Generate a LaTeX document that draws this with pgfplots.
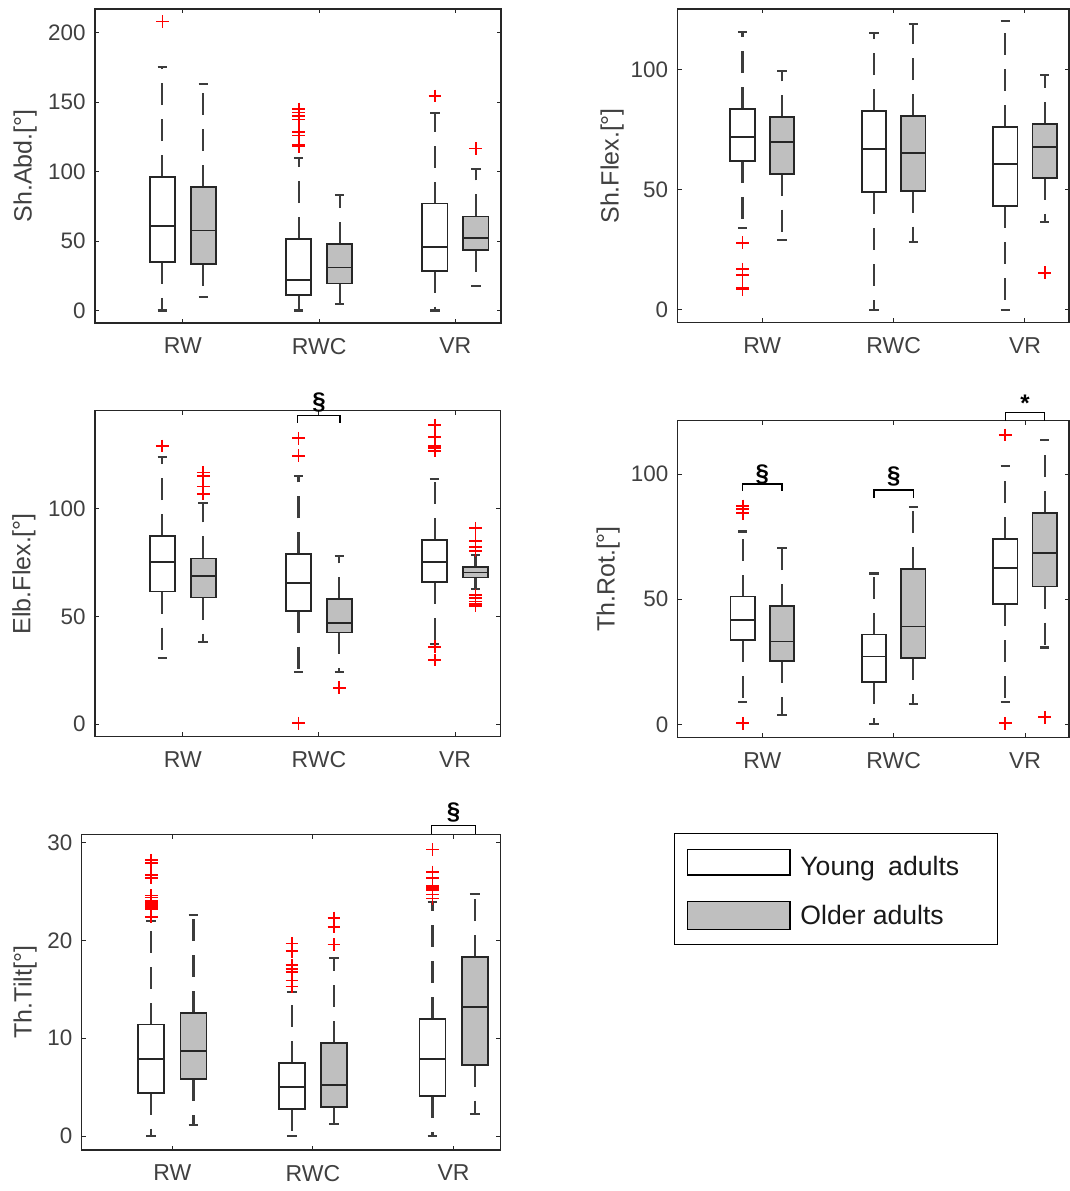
\documentclass[border=0pt]{standalone}
\usepackage{pgfplots}
\pgfplotsset{compat=1.18}
\usepgfplotslibrary{statistics}
\usepackage{fontspec}
\setmainfont{Liberation Sans}
\definecolor{axgray}{HTML}{262626}
\definecolor{tickgray}{HTML}{404040}
\definecolor{boxgray}{HTML}{BFBFBF}
\definecolor{outred}{HTML}{FF0000}
\tikzset{
  sig/.style={draw=black, line width=0.6pt},
  sigtxt/.style={font=\bfseries\fontsize{12}{14}\selectfont, inner sep=0pt},
}
\pgfplotsset{
  panel/.style={
    scale only axis, clip=false,
    xmin=0.355, xmax=3.335,
    xtick={1,2,3}, xticklabels={RW,RWC,VR},
    tick pos=both, tick align=inside,
    major tick length=2.2pt,
    axis line style={axgray, line width=0.75pt},
    every tick/.style={axgray, line width=0.5pt},
    tick label style={tickgray},
    yticklabel style={font=\fontsize{11.2}{13}\selectfont, xshift=-1.2pt},
    xticklabel style={font=\fontsize{11.5}{13}\selectfont, yshift=-4pt},
    ylabel style={font=\fontsize{12.5}{14}\selectfont, tickgray, anchor=center},
    /pgf/number format/assume math mode=true,
  },
  bstyle/.style={
    boxplot/draw direction=y,
    boxplot/box extend=0.185,
    boxplot/whisker extend=0.07,
    boxplot/every whisker/.style={draw=axgray!90, line width=1.05pt, dash pattern=on 11pt off 7pt},
    boxplot/every median/.style={draw=axgray, line width=0.9pt, solid},
    no marks,
  },
  young/.style={bstyle, boxplot/every box/.style={draw=axgray, fill=white, line width=0.9pt, solid}},
  older/.style={bstyle, boxplot/every box/.style={draw=axgray, fill=boxgray, line width=0.9pt, solid}},
  out/.style={only marks, mark=+, mark size=3.2pt, mark options={draw=outred, solid, line width=0.9pt}},
  bx/.style n args={6}{boxplot prepared={draw position=#1, lower whisker=#2, lower quartile=#3, median=#4, upper quartile=#5, upper whisker=#6}},
}
\begin{document}
\begin{tikzpicture}
\useasboundingbox (0,0) rectangle (535pt,-595.5pt);

% ---------- Panel 1: Sh.Abd ----------
\begin{axis}[panel, at={(47.5pt,-161.5pt)}, anchor=south west,
  width=203pt, height=157pt, ymin=-9, ymax=217, ytick={0,50,100,150,200},
  ylabel={Sh.Abd.[°]}, ylabel style={at={(axis description cs:-0.172,0.5)}}]
\addplot[young, bx={0.85}{0}{35}{61}{96}{175}] coordinates {};
\addplot[older, bx={1.15}{9.5}{33.6}{57.6}{89}{163}] coordinates {};
\addplot[young, bx={1.85}{0}{11.2}{22}{51.4}{110}] coordinates {};
\addplot[older, bx={2.15}{4.5}{19.4}{30.9}{47.8}{83.4}] coordinates {};
\addplot[young, bx={2.85}{0}{28.7}{45.6}{77}{142}] coordinates {};
\addplot[older, bx={3.15}{17.9}{43.7}{52}{67.7}{102}] coordinates {};
\addplot[out] coordinates {(0.85,208) (1.85,145) (1.85,142.5) (1.85,140) (1.85,137.5) (1.85,128.5) (1.85,126) (1.85,119) (1.85,118) (2.85,154.4) (3.15,116.6)};
\end{axis}

% ---------- Panel 2: Sh.Flex ----------
\begin{axis}[panel, at={(338.75pt,-161.35pt)}, anchor=south west,
  width=195.75pt, height=156.85pt, ymin=-5.3, ymax=125.4, ytick={0,50,100},
  ylabel={Sh.Flex.[°]}, ylabel style={at={(axis description cs:-0.167,0.5)}}]
\addplot[young, bx={0.85}{34}{62.1}{72.2}{83.75}{115.7}] coordinates {};
\addplot[older, bx={1.15}{29.2}{56.8}{69.9}{80.3}{99.6}] coordinates {};
\addplot[young, bx={1.85}{0}{49}{67.1}{82.9}{115.3}] coordinates {};
\addplot[older, bx={2.15}{28.2}{49.7}{65.3}{80.8}{119.2}] coordinates {};
\addplot[young, bx={2.85}{0}{43.3}{60.8}{76.4}{120.4}] coordinates {};
\addplot[older, bx={3.15}{36.8}{55}{67.8}{77.5}{97.9}] coordinates {};
\addplot[out] coordinates {(0.85,28) (0.85,17) (0.85,14.5) (0.85,9) (0.85,8.5) (3.15,15.5)};
\end{axis}

% ---------- Panel 3: Elb.Flex ----------
\begin{axis}[panel, at={(47.5pt,-368.35pt)}, anchor=south west,
  width=202.85pt, height=163pt, ymin=-5.9, ymax=145.7, ytick={0,50,100},
  ylabel={Elb.Flex.[°]}, ylabel style={at={(axis description cs:-0.175,0.5)}}]
\addplot[young, bx={0.85}{30.5}{61.6}{75.5}{87.4}{124}] coordinates {};
\addplot[older, bx={1.15}{38.3}{58.8}{68.8}{77}{102.6}] coordinates {};
\addplot[young, bx={1.85}{24.3}{52.7}{65.4}{78.9}{115.5}] coordinates {};
\addplot[older, bx={2.15}{24}{42.6}{46.8}{58}{78.1}] coordinates {};
\addplot[young, bx={2.85}{37.2}{65.9}{75.2}{85.6}{114}] coordinates {};
\addplot[older, bx={3.15}{63}{68.1}{70.5}{73.2}{78.6}] coordinates {};
\addplot[out] coordinates {(0.85,129.3) (1.15,117) (1.15,115.5) (1.15,110.5) (1.15,107) (1.85,132.9) (1.85,124.7) (1.85,0.3) (2.15,16.9) (2.85,139) (2.85,133.6) (2.85,129.3) (2.85,128.2) (2.85,127.1) (2.85,36) (2.85,29.8) (3.15,91) (3.15,85) (3.15,82.5) (3.15,80.5) (3.15,60) (3.15,58.5) (3.15,57) (3.15,56) (3.15,55)};
\draw[sig] (axis cs:1.845,140) -- (axis cs:1.845,143.3) -- (axis cs:2.155,143.3) -- (axis cs:2.155,140);
\node[sigtxt] at (axis cs:2,149.5) {§};
\end{axis}

% ---------- Panel 4: Th.Rot ----------
\begin{axis}[panel, at={(338.85pt,-368.65pt)}, anchor=south west,
  width=195.65pt, height=158.3pt, ymin=-5.2, ymax=121.4, ytick={0,50,100},
  ylabel={Th.Rot.[°]}, ylabel style={at={(axis description cs:-0.178,0.5)}}]
\addplot[young, bx={0.85}{8.8}{33.7}{41.7}{51.1}{77.1}] coordinates {};
\addplot[older, bx={1.15}{3.7}{25.3}{33.1}{47.3}{70.4}] coordinates {};
\addplot[young, bx={1.85}{0.3}{16.8}{27.1}{35.9}{60.3}] coordinates {};
\addplot[older, bx={2.15}{8}{26.4}{39.1}{62.1}{86.8}] coordinates {};
\addplot[young, bx={2.85}{9.1}{48}{62.4}{74.1}{103.3}] coordinates {};
\addplot[older, bx={3.15}{30.7}{55.1}{68.4}{84.4}{113.7}] coordinates {};
\addplot[out] coordinates {(0.85,87.3) (0.85,86.1) (0.85,84.4) (0.85,0.4) (2.85,115.7) (2.85,0.4) (3.15,2.8)};
\draw[sig] (axis cs:0.85,93.3) -- (axis cs:0.85,96.1) -- (axis cs:1.15,96.1) -- (axis cs:1.15,93.3);
\node[sigtxt] at (axis cs:1,99.8) {§};
\draw[sig] (axis cs:1.85,90.6) -- (axis cs:1.85,93.7) -- (axis cs:2.15,93.7) -- (axis cs:2.15,90.6);
\node[sigtxt] at (axis cs:2,99.2) {§};
\draw[sig] (axis cs:2.85,121.4) -- (axis cs:2.85,124.6) -- (axis cs:3.15,124.6) -- (axis cs:3.15,121.4);
\node[sigtxt] at (axis cs:3,128.5) {*};
\end{axis}

% ---------- Panel 5: Th.Tilt ----------
\begin{axis}[panel, at={(40.85pt,-575pt)}, anchor=south west,
  width=209.5pt, height=157.85pt, ymin=-1.43, ymax=30.86, ytick={0,10,20,30},
  ylabel={Th.Tilt[°]}, ylabel style={at={(axis description cs:-0.135,0.5)}}]
\addplot[young, bx={0.85}{0}{4.43}{7.84}{11.4}{22.0}] coordinates {};
\addplot[older, bx={1.15}{1.1}{5.8}{8.7}{12.6}{22.6}] coordinates {};
\addplot[young, bx={1.85}{0}{2.73}{5.05}{7.5}{14.7}] coordinates {};
\addplot[older, bx={2.15}{1.2}{3.0}{5.2}{9.55}{18.2}] coordinates {};
\addplot[young, bx={2.85}{0}{4.1}{7.9}{12.0}{23.9}] coordinates {};
\addplot[older, bx={3.15}{2.25}{7.3}{13.2}{18.3}{24.8}] coordinates {};
\addplot[out] coordinates {(0.85,28.2) (0.85,27.9) (0.85,26.7) (0.85,26.4) (0.85,24.6) (0.85,24.4) (0.85,24.0) (0.85,23.8) (0.85,23.6) (0.85,23.4) (0.85,23.2) (0.85,22.4) (1.85,19.7) (1.85,18.9) (1.85,17.5) (1.85,17.1) (1.85,16.8) (1.85,15.9) (1.85,15.3) (2.15,22.3) (2.15,21.4) (2.15,19.6) (2.85,29.3) (2.85,27.0) (2.85,26.4) (2.85,25.6) (2.85,25.4) (2.85,25.2) (2.85,24.7) (2.85,24.3)};
\draw[sig] (axis cs:2.845,30.86) -- (axis cs:2.845,31.8) -- (axis cs:3.155,31.8) -- (axis cs:3.155,30.86);
\node[sigtxt] at (axis cs:3,33.1) {§};
\end{axis}

% ---------- Legend ----------
\draw[black, line width=0.75pt] (337.15pt,-416.65pt) rectangle (498.85pt,-472.15pt);
\draw[black, line width=0.75pt, fill=white] (343.85pt,-424.65pt) rectangle (395pt,-437.5pt);
\draw[black, line width=0.75pt, fill=boxgray] (343.85pt,-450.85pt) rectangle (395pt,-464.65pt);
\node[anchor=base west, inner sep=0pt, font=\fontsize{13.3}{15}\selectfont, text=black!90] at (400pt,-437.5pt) {Young\hspace{3pt} adults};
\node[anchor=base west, inner sep=0pt, font=\fontsize{13.3}{15}\selectfont, text=black!90] at (400pt,-462pt) {Older adults};
\end{tikzpicture}
\end{document}
